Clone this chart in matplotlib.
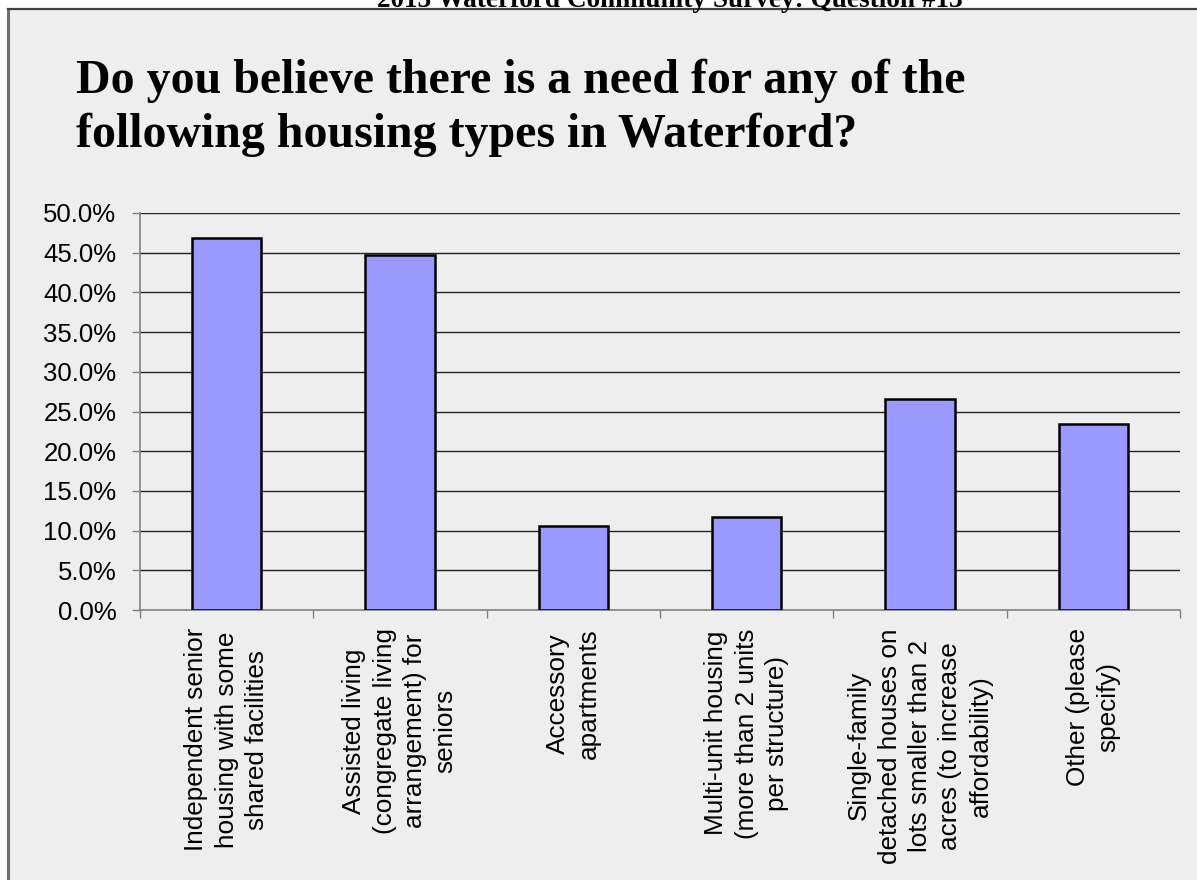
import matplotlib
matplotlib.use("Agg")
import matplotlib.pyplot as plt
from matplotlib.patches import Rectangle
from matplotlib.lines import Line2D
import numpy as np

categories = [
    "Independent senior\nhousing with some\nshared facilities",
    "Assisted living\n(congregate living\narrangement) for\nseniors",
    "Accessory\napartments",
    "Multi-unit housing\n(more than 2 units\nper structure)",
    "Single-family\ndetached houses on\nlots smaller than 2\nacres (to increase\naffordability)",
    "Other (please\nspecify)",
]
values = [46.8, 44.7, 10.6, 11.7, 26.6, 23.4]
yticks = [0, 5, 10, 15, 20, 25, 30, 35, 40, 45, 50]

W, H = 1197, 880
fig = plt.figure(figsize=(W / 100, H / 100), dpi=100)
fig.patch.set_facecolor("white")

# panel background with border
fig.patches.append(Rectangle((8 / W, 0), 1 - 8 / W, (H - 9) / H, transform=fig.transFigure,
                             facecolor="#EEEEEE", edgecolor="none", zorder=-5))
fig.lines.append(Line2D([8 / W, 8 / W], [0, (H - 9) / H], transform=fig.transFigure,
                        color="#707070", lw=2.2, zorder=-4))
fig.lines.append(Line2D([8 / W, 1], [(H - 9) / H, (H - 9) / H], transform=fig.transFigure,
                        color="#404040", lw=1.6, zorder=-4))

# cut-off header
fig.text(670 / W, 1 - 7 / H, "2013 Waterford Community Survey: Question #13",
         ha="center", va="baseline", fontsize=19.6, fontweight="bold",
         family="Liberation Serif")

# title
fig.text(76 / W, 1 - 147 / H,
         "Do you believe there is a need for any of the\nfollowing housing types in Waterford?",
         ha="left", va="baseline", fontsize=34.5, fontweight="bold",
         family="Liberation Serif", linespacing=1.27)

ax = fig.add_axes([140 / W, 270 / H, 1040 / W, 397 / H])
ax.set_facecolor("none")
x = np.arange(len(values))
ax.set_xlim(-0.5, len(values) - 0.5)
ax.set_ylim(0, 50)

for yv in yticks[1:]:
    ax.axhline(yv, color="#222222", lw=1.0, zorder=1)

ax.bar(x, values, width=0.4, color="#9999FF", edgecolor="black", linewidth=1.8, zorder=3)

for s in ["top", "right"]:
    ax.spines[s].set_visible(False)
for s in ["left", "bottom"]:
    ax.spines[s].set_color("#808080")
    ax.spines[s].set_linewidth(1.2)

ax.set_yticks(yticks)
ax.set_yticklabels([f"{v:.1f}%" for v in yticks], family="Liberation Sans", fontsize=18.5)
ax.tick_params(axis="y", length=6, width=1, color="#808080", pad=11)

ax.set_xticks(x)
ax.set_xticklabels(categories, rotation=90, ha="center", va="top", multialignment="center",
                   family="Liberation Sans", fontsize=18.8, linespacing=1.34)
ax.tick_params(axis="x", which="major", length=0, pad=13)
ax.set_xticks(np.arange(-0.5, len(values), 1.0), minor=True)
ax.tick_params(axis="x", which="minor", length=6, width=1, color="#808080")

fig.savefig("out.png", dpi=100, facecolor="white")
